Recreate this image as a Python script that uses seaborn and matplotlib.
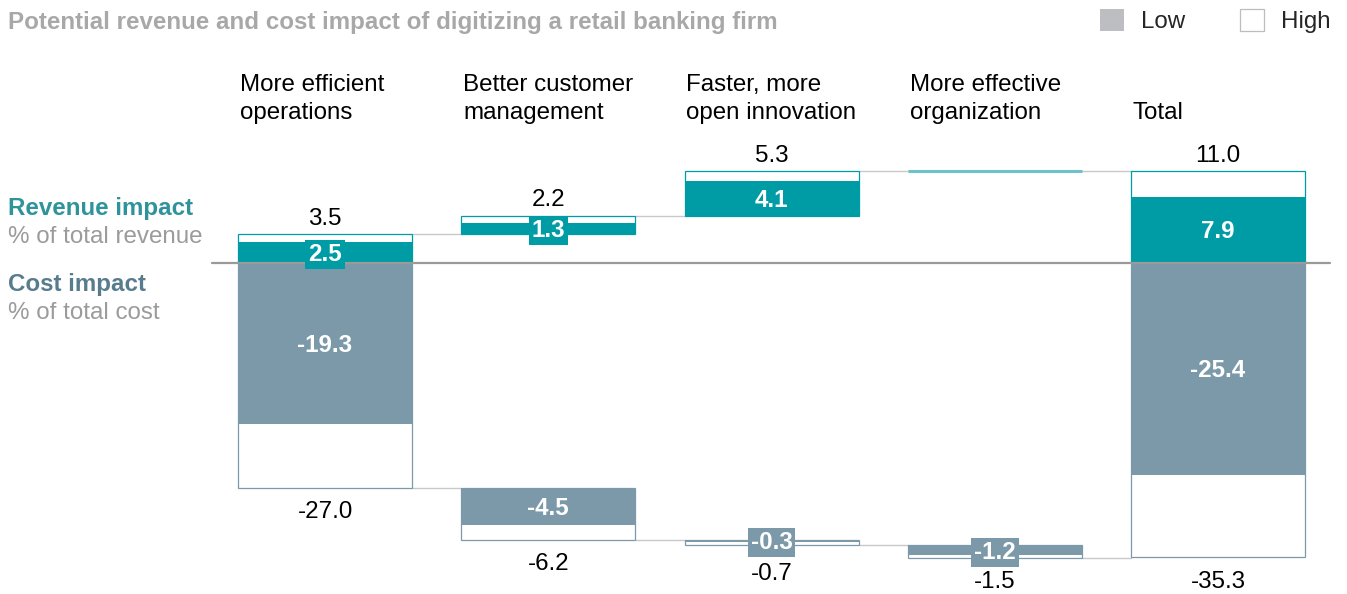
import numpy as np
import pandas as pd
import matplotlib.pyplot as plt
import seaborn as sns
from matplotlib.patches import Patch
from matplotlib.transforms import blended_transform_factory

# ─────────────────────────────────────────
# DATA
# ─────────────────────────────────────────
categories = ["More efficient\noperations", "Better customer\nmanagement",
              "Faster, more\nopen innovation", "More effective\norganization", "Total"]
rev_low = [2.5, 1.3, 4.1, 0.0, 7.9]
rev_high = [3.5, 2.2, 5.3, 0.0, 11.0]
cost_low = [-19.3, -4.5, -0.3, -1.2, -25.4]
cost_high = [-27.0, -6.2, -0.7, -1.5, -35.3]

df = pd.DataFrame({'category': categories,
                   'rev_low': rev_low, 'rev_high': rev_high,
                   'cost_low': cost_low, 'cost_high': cost_high})

# waterfall: each lever starts where the previous "high" ended, total starts at 0
n = len(df)
x = np.arange(n)
rev_start = np.r_[0, np.cumsum(rev_high[:-1])[:-1], 0]
cost_start = np.r_[0, np.cumsum(cost_high[:-1])[:-1], 0]
rev_end = rev_start + df['rev_high'].values
cost_end = cost_start + df['cost_high'].values

# ─────────────────────────────────────────
# STYLE
# ─────────────────────────────────────────
TEAL = '#009ca6'
TEAL_LIGHT = '#6cc3c9'
SLATE = '#7c99aa'
GRID = '#c8c8c8'
ZERO = '#9a9a9a'
GREY_TXT = '#9b9b9b'
FS = 17.4

sns.set_style('white')
plt.rcParams['font.family'] = ['Liberation Sans', 'DejaVu Sans']

W_PX, H_PX = 1347, 594
fig = plt.figure(figsize=(W_PX / 100, H_PX / 100), dpi=100)
ax = fig.add_axes([0, 0, 1, 1])
ax.axis('off')

# pixel layout of the plot area
step_px, x0_px = 223.25, 325
y0_px, unit_px = 263, 8.33
ax.set_xlim(-x0_px / step_px, (W_PX - x0_px) / step_px)
ax.set_ylim(-(H_PX - y0_px) / unit_px, y0_px / unit_px)
bw = 174 / step_px

# connectors
for i in range(n - 1):
    ax.plot([i + bw / 2, i + 1 - bw / 2], [rev_end[i], rev_end[i]], color=GRID, lw=1, zorder=1)
    ax.plot([i + bw / 2, i + 1 - bw / 2], [cost_end[i], cost_end[i]], color=GRID, lw=1, zorder=1)

# revenue bars
zero_rev = df['rev_high'].values == 0
ax.bar(x, df['rev_high'], width=bw, bottom=rev_start, facecolor='white',
       edgecolor=[TEAL_LIGHT if z else TEAL for z in zero_rev],
       linewidth=[2.2 if z else 0.9 for z in zero_rev], zorder=2)
ax.bar(x, df['rev_low'], width=bw, bottom=rev_start, color=TEAL, linewidth=0, zorder=2)

# cost bars
ax.bar(x, df['cost_high'], width=bw, bottom=cost_start, facecolor='white',
       edgecolor=SLATE, linewidth=0.9, zorder=2)
ax.bar(x, df['cost_low'], width=bw, bottom=cost_start, color=SLATE, linewidth=0, zorder=2)

# zero line
ax.plot([-0.5 - 0.005, n - 0.5], [0, 0], color=ZERO, lw=1.6, zorder=3)

# value labels
for i in range(n):
    if df['rev_high'][i] != 0:
        ax.annotate(f"{df['rev_high'][i]:.1f}", (i, rev_end[i]), xytext=(0, 6.5),
                    textcoords='offset points', ha='center', va='baseline',
                    fontsize=FS, color='black', zorder=5)
        ax.annotate(f"{df['rev_low'][i]:.1f}", (i, rev_start[i] + df['rev_low'][i] / 2),
                    xytext=(0, -6), textcoords='offset points', ha='center', va='baseline',
                    fontsize=FS, fontweight='bold', color='white', zorder=5,
                    bbox=dict(boxstyle='square,pad=0.12', fc=TEAL, ec='none'))
    # the tiny innovation bar pushes its outer label a bit lower
    drop = -25 if abs(df['cost_high'][i]) < 1 else -22
    ax.annotate(f"{df['cost_high'][i]:.1f}", (i, cost_end[i]), xytext=(0, drop),
                textcoords='offset points', ha='center', va='baseline',
                fontsize=FS, color='black', zorder=5)
    ax.annotate(f"{df['cost_low'][i]:.1f}", (i, cost_start[i] + df['cost_low'][i] / 2),
                xytext=(0, -6), textcoords='offset points', ha='center', va='baseline',
                fontsize=FS, fontweight='bold', color='white', zorder=5,
                bbox=dict(boxstyle='square,pad=0.12', fc=SLATE, ec='none'))

# category headers, left aligned with the bars, last line on a common baseline
trans = blended_transform_factory(ax.transData, fig.transFigure)
for i, lab in enumerate(categories):
    for k, line in enumerate(reversed(lab.split('\n'))):
        ax.text(i - bw / 2 + 0.008, 1 - (119 - 28 * k) / H_PX, line, transform=trans,
                ha='left', va='baseline', fontsize=FS, color='black')

# side labels
def ftext(px, py, s, **kw):
    fig.text(px / W_PX, 1 - py / H_PX, s, ha='left', va='baseline', fontsize=FS, **kw)

ftext(8, 29.5, 'Potential revenue and cost impact of digitizing a retail banking firm',
      color='#a8a8a8', fontweight='bold')
ftext(8, 215, 'Revenue impact', color='#2e939b', fontweight='bold')
ftext(8, 243, '% of total revenue', color=GREY_TXT)
ftext(8, 291, 'Cost impact', color='#587c8e', fontweight='bold')
ftext(8, 319, '% of total cost', color=GREY_TXT)

# legend
handles = [Patch(facecolor='#bdbec2', edgecolor='none', label='Low'),
           Patch(facecolor='white', edgecolor='#bdbdbd', linewidth=0.9, label='High')]
fig.legend(handles=handles, loc='upper right', bbox_to_anchor=(1331 / W_PX, 1 - 9 / H_PX),
           ncol=2, frameon=False, fontsize=FS, handlelength=1.0, handleheight=1.0,
           handletextpad=0.7, columnspacing=2.3, borderpad=0, borderaxespad=0)

plt.savefig('out.png', dpi=100, facecolor='white')
plt.close()
